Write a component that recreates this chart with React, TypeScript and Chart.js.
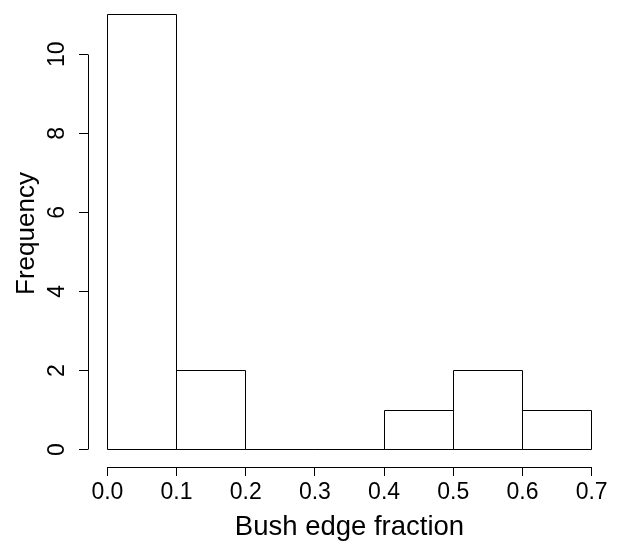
import React, { useEffect, useRef } from "react";
import { Chart, registerables } from "chart.js";

Chart.register(...registerables);

const binEdges = [0, 0.1, 0.2, 0.3, 0.4, 0.5, 0.6, 0.7];
const counts = [11, 2, 0, 0, 1, 2, 1];
const xTicks = [0, 0.1, 0.2, 0.3, 0.4, 0.5, 0.6, 0.7];
const yTicks = [0, 2, 4, 6, 8, 10];
const xTitle = "Bush edge fraction";
const yTitle = "Frequency";

const FONT = "'Liberation Sans', Arial, Helvetica, sans-serif";

const align = (v: number) => Math.round(v - 0.5) + 0.5;

const histOutline = {
  id: "histOutline",
  afterDatasetsDraw(chart: any) {
    const ctx = chart.ctx;
    const meta = chart.getDatasetMeta(0);
    ctx.save();
    ctx.strokeStyle = "#000";
    ctx.lineWidth = 1;
    meta.data.forEach((el: any) => {
      const { x, y, base, width } = el.getProps(["x", "y", "base", "width"], true);
      const l = align(x - width / 2);
      const r = align(x + width / 2);
      const t = align(y);
      const b = align(base);
      ctx.beginPath();
      ctx.rect(l, t, r - l, b - t);
      ctx.stroke();
    });
    ctx.restore();
  },
};

const rAxes = {
  id: "rAxes",
  afterDraw(chart: any) {
    const ctx = chart.ctx;
    const xs = chart.scales.x;
    const ys = chart.scales.y;
    const area = chart.chartArea;
    ctx.save();
    ctx.strokeStyle = "#000";
    ctx.lineWidth = 1;
    const yLine = align(area.bottom);
    ctx.beginPath();
    ctx.moveTo(align(xs.getPixelForValue(xTicks[0])), yLine);
    ctx.lineTo(align(xs.getPixelForValue(xTicks[xTicks.length - 1])), yLine);
    ctx.stroke();
    const xLine = align(area.left);
    ctx.beginPath();
    ctx.moveTo(xLine, align(ys.getPixelForValue(yTicks[0])));
    ctx.lineTo(xLine, align(ys.getPixelForValue(yTicks[yTicks.length - 1])));
    ctx.stroke();
    ctx.restore();
  },
};

const zeroPad = (s: any) => {
  s.paddingTop = 0;
  s.paddingBottom = 0;
  s.paddingLeft = 0;
  s.paddingRight = 0;
};

export default function App() {
  const ref = useRef<HTMLCanvasElement>(null);
  useEffect(() => {
    if (!ref.current) return;
    const data = counts.map((c, i) => ({ x: (binEdges[i] + binEdges[i + 1]) / 2, y: c }));
    const chart = new Chart(ref.current, {
      type: "bar",
      data: {
        datasets: [
          {
            data,
            backgroundColor: "rgba(0,0,0,0)",
            borderWidth: 0,
            barPercentage: 1,
            categoryPercentage: 1,
          } as any,
        ],
      },
      options: {
        animation: false,
        responsive: false,
        devicePixelRatio: 1,
        layout: { padding: { top: 0, right: 11, left: 0, bottom: 0 } },
        plugins: { legend: { display: false }, tooltip: { enabled: false } },
        scales: {
          x: {
            type: "linear",
            offset: false,
            min: -0.028,
            max: 0.728,
            afterBuildTicks: (s: any) => {
              s.ticks = xTicks.map((v) => ({ value: v }));
            },
            afterFit: (s: any) => {
              s.height = 79;
              zeroPad(s);
            },
            grid: {
              display: true,
              offset: false,
              drawOnChartArea: false,
              drawTicks: true,
              tickLength: 9,
              color: "#000",
              tickColor: "#000",
              lineWidth: 1,
            },
            border: { display: false },
            ticks: {
              color: "#000",
              font: { family: FONT, size: 23 },
              padding: 3,
              minRotation: 0,
              maxRotation: 0,
              autoSkip: false,
              callback: (v: any) => Number(v).toFixed(1),
            },
            title: {
              display: true,
              text: xTitle,
              color: "#000",
              font: { family: FONT, size: 27.5 },
              padding: { top: 0, bottom: 2 },
            },
          },
          y: {
            type: "linear",
            min: -0.44,
            max: 11.37,
            afterBuildTicks: (s: any) => {
              s.ticks = yTicks.map((v) => ({ value: v }));
            },
            afterFit: (s: any) => {
              s.width = 88;
              zeroPad(s);
            },
            grid: {
              display: true,
              drawOnChartArea: false,
              drawTicks: true,
              tickLength: 9,
              color: "#000",
              tickColor: "#000",
              lineWidth: 1,
            },
            border: { display: false },
            ticks: {
              color: "#000",
              font: { family: FONT, size: 23 },
              padding: 8.5,
              minRotation: 90,
              maxRotation: 90,
              crossAlign: "center",
              autoSkip: false,
              callback: (v: any) => String(v),
            },
            title: {
              display: true,
              text: yTitle,
              color: "#000",
              font: { family: FONT, size: 26 },
              padding: { top: 11, bottom: 0 },
            },
          },
        },
      } as any,
      plugins: [histOutline, rAxes],
    });
    return () => chart.destroy();
  }, []);
  return (
    <div style={{ position: "fixed", left: 0, top: 0, width: 622, height: 546, background: "#fff" }}>
      <canvas ref={ref} width={622} height={546} style={{ display: "block" }} />
    </div>
  );
}
